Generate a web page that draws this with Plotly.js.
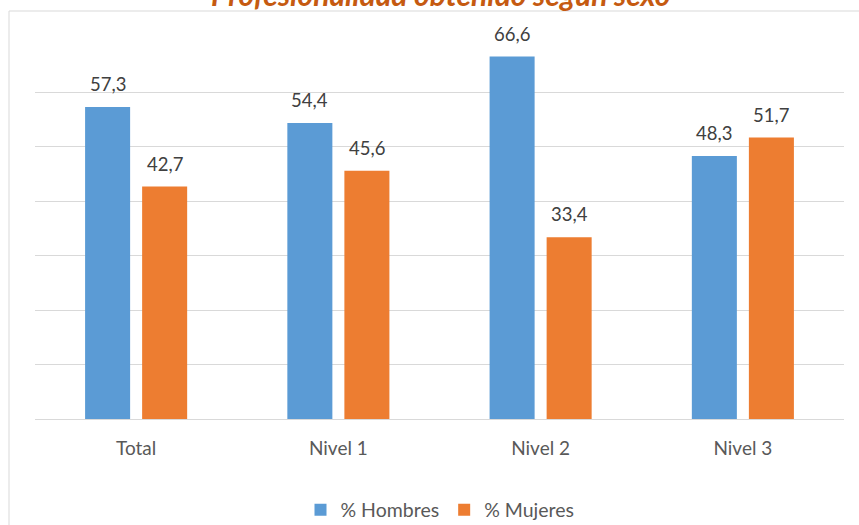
<!DOCTYPE html>
<html>
<head>
<meta charset="utf-8">
<script src="https://cdn.plot.ly/plotly-3.0.1.min.js"></script>
<style>html,body{margin:0;padding:0;background:#fff;}#chart{width:859px;height:525px;}</style>
</head>
<body>
<div id="chart"></div>
<script>
var categories = ["Total", "Nivel 1", "Nivel 2", "Nivel 3"];
var hombres = [57.3, 54.4, 66.6, 48.3];
var mujeres = [42.7, 45.6, 33.4, 51.7];
var seriesNames = ["% Hombres", "% Mujeres"];
var titleText = "Profesionalidad obtenido según sexo";

var blue = "#5B9BD5", orange = "#ED7D31";
var FONT = "Lato, 'Open Sans', sans-serif";

var traces = [
  {type: "bar", name: seriesNames[0], x: categories, y: hombres, marker: {color: blue}, hoverinfo: "none"},
  {type: "bar", name: seriesNames[1], x: categories, y: mujeres, marker: {color: orange}, hoverinfo: "none"}
];

function fmt(v) { return v.toFixed(1).replace(".", ","); }

var annotations = [];
[hombres, mujeres].forEach(function (vals, s) {
  vals.forEach(function (v, i) {
    annotations.push({
      x: categories[i], y: v, xref: "x", yref: "y",
      text: fmt(v), showarrow: false,
      xshift: s === 0 ? -28.5 : 28.5, yshift: 10,
      yanchor: "bottom", xanchor: "center",
      font: {family: FONT, size: 18.5, color: "#404040"}
    });
  });
});

annotations.push({
  text: "<b><i>" + titleText + "</i></b>",
  xref: "paper", yref: "paper",
  x: (440 - 35) / 809, xanchor: "center",
  y: (419 - 14) / 381, yanchor: "bottom",
  showarrow: false,
  font: {family: FONT, size: 30, color: "#C55A11"}
});

var layout = {
  width: 859, height: 525,
  margin: {l: 35, r: 15, t: 38, b: 106, autoexpand: false},
  paper_bgcolor: "#ffffff", plot_bgcolor: "#ffffff",
  separators: ",.",
  barmode: "group", bargap: 0.436, bargroupgap: 0.2105,
  xaxis: {
    type: "category",
    showgrid: false, zeroline: false,
    showline: true, linecolor: "#D9D9D9", linewidth: 1,
    ticks: "", ticklabelstandoff: 12,
    tickfont: {family: FONT, size: 19, color: "#595959"}
  },
  yaxis: {
    range: [0, 70], dtick: 10, tick0: 0,
    showticklabels: false, ticks: "",
    showgrid: true, gridcolor: "#D9D9D9", gridwidth: 1,
    zeroline: false, showline: false
  },
  showlegend: true,
  legend: {
    orientation: "h", x: (440 - 35) / 809, xanchor: "center",
    y: (419 - 510) / 381, yanchor: "middle",
    font: {family: FONT, size: 19.5, color: "#595959"},
    itemwidth: 30, traceorder: "normal"
  },
  shapes: [{
    type: "rect", xref: "paper", yref: "paper",
    x0: (9 - 35) / 809, x1: 1.2, y0: -0.6, y1: (419 - 11) / 381,
    line: {color: "#D9D9D9", width: 1}, fillcolor: "rgba(0,0,0,0)", layer: "below"
  }],
  annotations: annotations
};

Plotly.newPlot("chart", traces, layout, {staticPlot: true, displayModeBar: false});
</script>
</body>
</html>
